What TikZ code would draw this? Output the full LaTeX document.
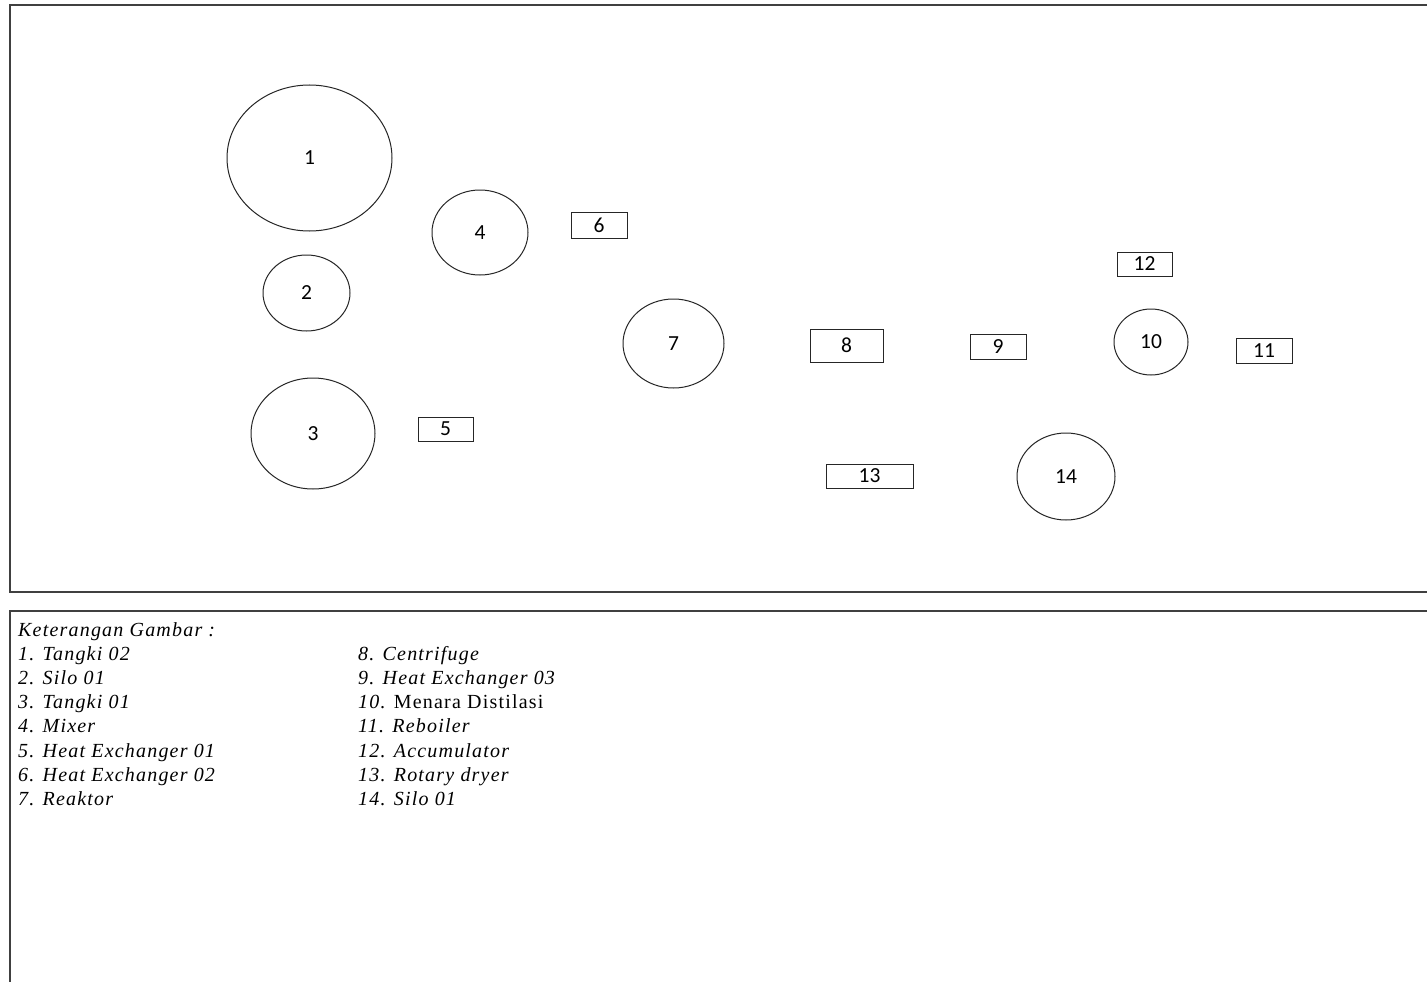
\documentclass[tikz,border=0pt]{standalone}
\usepackage{fontspec}
\setmainfont{Liberation Serif}
\newfontfamily\numfont{Carlito}
\usetikzlibrary{shapes.geometric}
\begin{document}
\begin{tikzpicture}[x=1pt,y=-1pt,
  frame/.style={draw=black!75,line width=1.4pt},
  vessel/.style={ellipse,draw=black!85,line width=1pt,inner sep=0pt,font=\numfont\fontsize{21.5}{24}\selectfont},
  unit/.style={rectangle,draw=black!85,line width=1pt,inner sep=0pt,font=\numfont\fontsize{21.5}{24}\selectfont},
  legend/.style={anchor=base west,inner sep=0pt,font=\fontsize{20}{24}\selectfont\itshape\addfontfeature{LetterSpace=6}}]
\useasboundingbox (0,0) rectangle (1427,982);
\fill[white] (0,0) rectangle (1427,982);
% frames
\draw[frame] (1440,5) -- (10,5) -- (10,592) -- (1440,592);
\draw[frame] (1440,611) -- (10,611) -- (10,1000);
% vessels
\node[vessel,minimum width=165pt,minimum height=146pt] (n1) at (309.5,158) {1};
\node[vessel,minimum width=87pt,minimum height=76pt] (n2) at (306.5,293) {2};
\node[vessel,minimum width=124pt,minimum height=111pt] (n3) at (313,433.5) {3};
\node[vessel,minimum width=96pt,minimum height=85pt] (n4) at (480,232.5) {4};
\node[vessel,minimum width=101pt,minimum height=89pt] (n7) at (673.5,343.5) {7};
\node[vessel,minimum width=74pt,minimum height=66pt] (n10) at (1151,342) {10};
\node[vessel,minimum width=98pt,minimum height=87pt] (n14) at (1066,476.5) {14};
% rectangles
\node[unit,minimum width=55pt,minimum height=24pt] (n5) at (445.5,429) {5};
\node[unit,minimum width=56pt,minimum height=26pt] (n6) at (599,225) {6};
\node[unit,minimum width=73pt,minimum height=33pt] (n8) at (846.5,345.5) {8};
\node[unit,minimum width=56pt,minimum height=25pt] (n9) at (998,347) {9};
\node[unit,minimum width=56pt,minimum height=25pt] (n11) at (1264,350.5) {11};
\node[unit,minimum width=55pt,minimum height=24pt] (n12) at (1144.5,264) {12};
\node[unit,minimum width=87pt,minimum height=24pt] (n13) at (869.5,476) {13};
% legend
\node[legend] (lh) at (18,636) {Keterangan Gambar :};
\node[legend] (la1) at (18,660) {1. Tangki 02};
\node[legend] (la2) at (18,684) {2. Silo 01};
\node[legend] (la3) at (18,708.5) {3. Tangki 01};
\node[legend] (la4) at (18,732.5) {4. Mixer};
\node[legend] (la5) at (18,757) {5. Heat Exchanger 01};
\node[legend] (la6) at (18,781) {6. Heat Exchanger 02};
\node[legend] (la7) at (18,805) {7. Reaktor};
\node[legend] (lb8) at (358,660) {8. Centrifuge};
\node[legend] (lb9) at (358,684) {9. Heat Exchanger 03};
\node[legend] (lb10) at (358,708.5) {10. \upshape Menara Distilasi};
\node[legend] (lb11) at (358,732.5) {11. Reboiler};
\node[legend] (lb12) at (358,757) {12. Accumulator};
\node[legend] (lb13) at (358,781) {13. Rotary dryer};
\node[legend] (lb14) at (358,805) {14. Silo 01};
\end{tikzpicture}
\end{document}
